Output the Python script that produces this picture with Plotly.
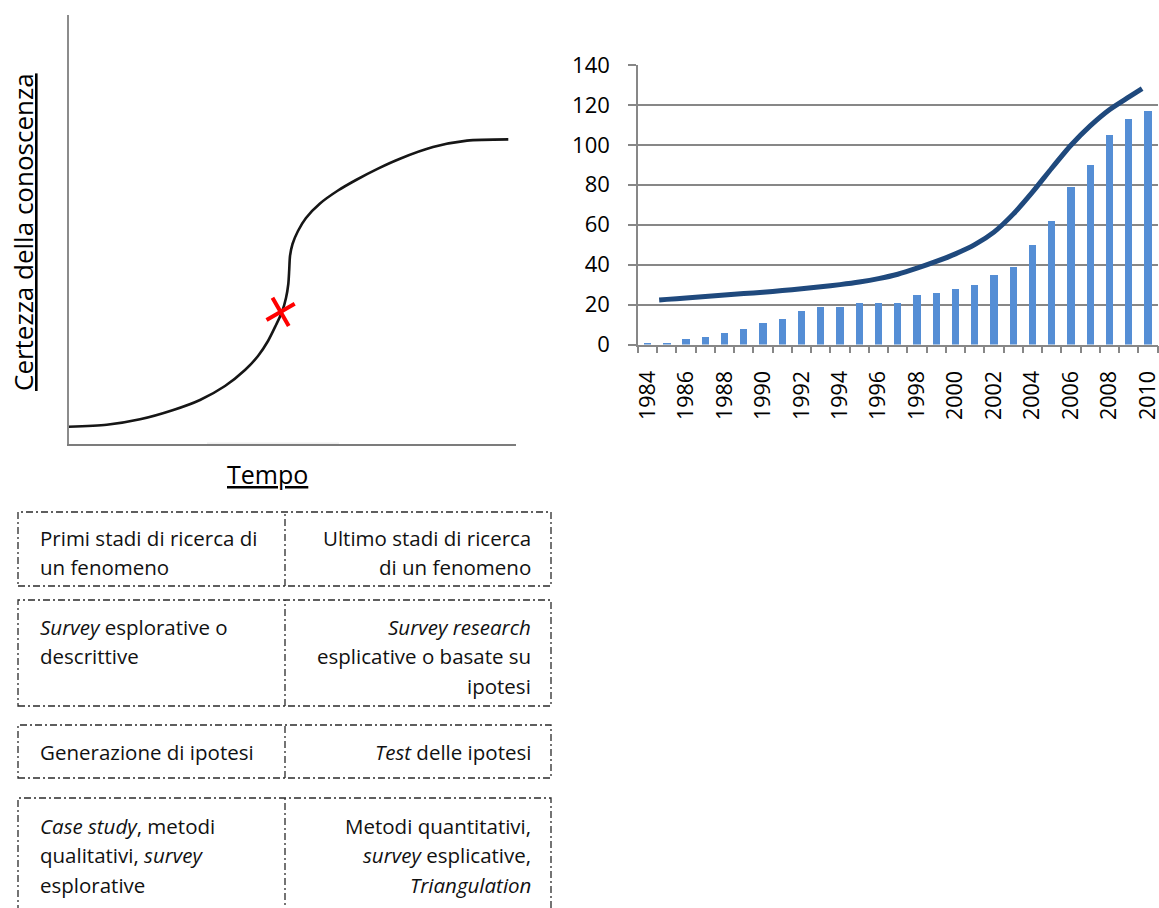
import plotly.graph_objects as go

W, H = 1159, 908

# ---------------- data: left (S-curve drawing) ----------------
curve_x = [0.0, 8.54, 15.98, 23.42, 29.39, 34.97, 39.44, 42.35, 44.58, 46.37, 47.71,
           48.60, 49.12, 49.32, 49.50, 50.06, 51.28, 53.07, 56.20, 60.22, 64.25, 69.16,
           74.08, 81.45, 89.05, 98.28]
curve_y = [4.03, 4.48, 5.76, 7.93, 10.26, 13.52, 17.25, 20.51, 24.01, 27.74, 30.77,
           34.03, 37.30, 40.56, 43.82, 46.62, 49.65, 52.68, 56.06, 59.09, 61.54, 64.20,
           66.50, 69.21, 70.72, 71.00]
cross_x = [47.4]
cross_y = [30.8]
left_x_title = "Tempo"
left_y_title = "Certezza della conoscenza"

# ---------------- data: right (bars + trend line) ----------------
years = list(range(1984, 2011))
bar_values = [1, 1, 3, 4, 6, 8, 11, 13, 17, 19, 19, 21, 21, 21, 25, 26, 28, 30,
              35, 39, 50, 62, 79, 90, 105, 113, 117]
line_years = [1984.6, 1985, 1986, 1987, 1988, 1989, 1990, 1991, 1992, 1993, 1994,
              1995, 1996, 1997, 1998, 1999, 2000, 2001, 2002, 2003, 2004, 2005,
              2006, 2007, 2008, 2009, 2009.7]
line_values = [22.3, 22.6, 23.3, 24.0, 24.8, 25.5, 26.2, 27.0, 27.9, 28.9, 30.0,
               31.3, 33.0, 35.2, 38.2, 41.6, 45.4, 50.0, 56.3, 65.3, 76.3, 88.3,
               99.8, 109.5, 117.6, 123.9, 128.2]
year_tick_labels = [str(y) for y in years[::2]]
y_ticks = [0, 20, 40, 60, 80, 100, 120, 140]

# ---------------- data: comparison table ----------------
left_cells = [
    ["Primi stadi di ricerca di", "un fenomeno"],
    ["<i>Survey</i> esplorative o", "descrittive"],
    ["Generazione di ipotesi"],
    ["<i>Case study</i>, metodi", "qualitativi, <i>survey</i>", "esplorative"],
]
right_cells = [
    ["Ultimo stadi di ricerca", "di un fenomeno"],
    ["<i>Survey research</i>", "esplicative o basate su", "ipotesi"],
    ["<i>Test</i> delle ipotesi"],
    ["Metodi quantitativi,", "<i>survey</i> esplicative,", "<i>Triangulation</i>"],
]

# ---------------- layout helpers ----------------
def fx(p):
    return p / W

def fy(p):
    return 1 - p / H

FONT = "Open Sans"
GRID = "#878787"

fig = go.Figure()

# left drawing
fig.add_trace(go.Scatter(x=curve_x, y=curve_y, mode="lines",
                         line=dict(color="#161616", width=2.6, shape="spline", smoothing=0.7),
                         xaxis="x", yaxis="y", hoverinfo="skip", showlegend=False))
fig.add_trace(go.Scatter(x=cross_x, y=cross_y, mode="markers",
                         marker=dict(symbol="x-thin", size=23, angle=15,
                                     color="#ff0000", line=dict(width=4, color="#ff0000")),
                         xaxis="x", yaxis="y", hoverinfo="skip", showlegend=False))

# right chart
fig.add_trace(go.Bar(x=years, y=bar_values, width=0.38, marker=dict(color="#558ED5", line=dict(width=0)),
                     xaxis="x2", yaxis="y2", showlegend=False))
fig.add_trace(go.Scatter(x=line_years, y=line_values, mode="lines",
                         line=dict(color="#1F497D", width=5, shape="spline", smoothing=0.6),
                         xaxis="x2", yaxis="y2", showlegend=False))

shapes = []
# faint gap in the left horizontal axis line
shapes.append(dict(type="line", xref="x", yref="y", x0=30.95, x1=60.45, y0=0, y1=0,
                   line=dict(color="#f0f0f0", width=3), layer="above"))

# table borders
rows = [(512, 586), (600, 706), (725, 778), (798, 930)]
x_left, x_mid, x_right = 18, 285, 551
dash = "7px,3px,2px,3px"
for (t, b) in rows:
    shapes.append(dict(type="rect", xref="paper", yref="paper",
                       x0=fx(x_left), x1=fx(x_right), y0=fy(b), y1=fy(t),
                       line=dict(color="#2a2a2a", width=1.3, dash=dash)))
    shapes.append(dict(type="line", xref="paper", yref="paper",
                       x0=fx(x_mid), x1=fx(x_mid), y0=fy(b), y1=fy(t),
                       line=dict(color="#2a2a2a", width=1.3, dash=dash)))

annotations = []
annotations.append(dict(text="<u>" + left_y_title + "</u>", xref="paper", yref="paper",
                        x=fx(23), y=fy(232), textangle=-90, showarrow=False,
                        xanchor="center", yanchor="middle",
                        font=dict(family=FONT, size=26, color="#000")))
annotations.append(dict(text="<u>" + left_x_title + "</u>", xref="paper", yref="paper",
                        x=fx(267), y=fy(474), showarrow=False,
                        xanchor="center", yanchor="middle",
                        font=dict(family=FONT, size=25, color="#000")))

first_line_y = [538, 627, 752, 826]
line_gap = 29.3
for i, (lc, rc) in enumerate(zip(left_cells, right_cells)):
    for j, s in enumerate(lc):
        annotations.append(dict(text=s, xref="paper", yref="paper", x=fx(38),
                                y=fy(first_line_y[i] + j * line_gap), xanchor="left",
                                yanchor="middle", showarrow=False,
                                font=dict(family=FONT, size=20.5, color="#111")))
    for j, s in enumerate(rc):
        annotations.append(dict(text=s, xref="paper", yref="paper", x=fx(533),
                                y=fy(first_line_y[i] + j * line_gap), xanchor="right",
                                yanchor="middle", showarrow=False,
                                font=dict(family=FONT, size=20.5, color="#111")))

fig.update_layout(
    width=W, height=H, margin=dict(l=0, r=0, t=0, b=0, pad=0, autoexpand=False),
    paper_bgcolor="white", plot_bgcolor="white",
    showlegend=False, bargap=0,
    xaxis=dict(domain=[fx(68.5), fx(516)], range=[0, 100], showgrid=False, zeroline=False,
               showticklabels=False, ticks="", showline=True, linecolor="#7c7c7c", linewidth=2,
               fixedrange=True, automargin=False),
    yaxis=dict(domain=[fy(444), fy(15)], range=[0, 100], showgrid=False, zeroline=False,
               showticklabels=False, ticks="", showline=True, linecolor="#8c8c8c", linewidth=1.6,
               fixedrange=True, automargin=False),
    xaxis2=dict(domain=[fx(638), fx(1157.5)], range=[1983.5, 2010.5], anchor="y2",
                tickmode="array", tickvals=years[::2], ticktext=year_tick_labels,
                tickangle=-90, ticks="", showgrid=False, zeroline=False,
                showline=True, linecolor=GRID, linewidth=1.5,
                minor=dict(ticks="outside", ticklen=7, tickwidth=1.5, tickcolor=GRID,
                           tick0=1983.5, dtick=1, showgrid=False),
                ticklabelstandoff=16, automargin=False, ticklabeloverflow="allow",
                tickfont=dict(family=FONT, size=21.5, color="#000")),
    yaxis2=dict(domain=[fy(344.5), fy(65)], range=[0, 140], anchor="x2",
                tickvals=y_ticks, showgrid=True, gridcolor=GRID, gridwidth=1.6,
                zeroline=False, showline=True, linecolor=GRID, linewidth=1.6,
                ticks="outside", ticklen=8, tickwidth=1.6, tickcolor=GRID,
                ticklabelstandoff=14, automargin=False,
                tickfont=dict(family=FONT, size=22, color="#000")),
    shapes=shapes, annotations=annotations,
)

fig.write_html("out.html", config={"displayModeBar": False},
               post_script="document.body.style.margin='0px';document.body.style.overflow='hidden';")
